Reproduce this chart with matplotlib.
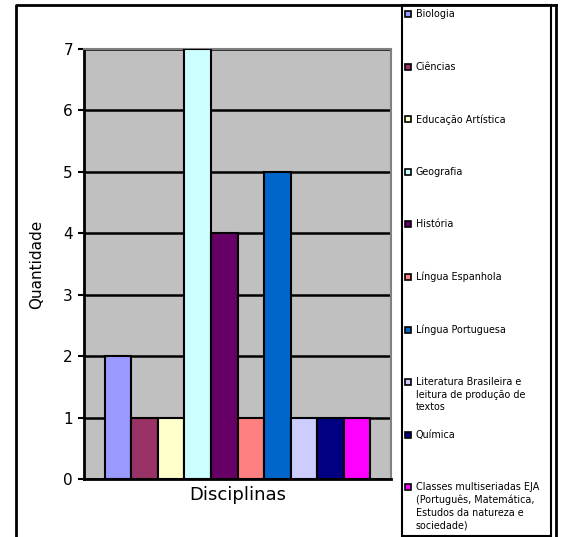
import matplotlib
matplotlib.use("Agg")
import matplotlib.pyplot as plt
from matplotlib.patches import Rectangle
from matplotlib.lines import Line2D

disciplinas = [
    "Biologia",
    "Ciências",
    "Educação Artística",
    "Geografia",
    "História",
    "Língua Espanhola",
    "Língua Portuguesa",
    "Literatura Brasileira e\nleitura de produção de\ntextos",
    "Química",
    "Classes multiseriadas EJA\n(Português, Matemática,\nEstudos da natureza e\nsociedade)",
]
quantidade = [2, 1, 1, 7, 4, 1, 5, 1, 1, 1]
cores = ["#9999FF", "#993366", "#FFFFCC", "#CCFFFF", "#660066",
         "#FF8080", "#0066CC", "#CCCCFF", "#000080", "#FF00FF"]

W, H = 562, 537
fig = plt.figure(figsize=(W / 100, H / 100), dpi=100)

def fx(px):
    return px / W

def fy(py):
    return 1 - py / H

# plot area
ax = fig.add_axes([fx(84), fy(479), fx(391) - fx(84), fy(49) - fy(479)])
ax.set_facecolor("#C0C0C0")
x = list(range(len(quantidade)))
ax.bar(x, quantidade, width=1.0, color=cores, edgecolor="black", linewidth=1.5, zorder=3)
ax.set_xlim(-1.29, 10.29)
ax.set_ylim(0, 7)
ax.set_yticks(range(8))
ax.set_xticks([])
ax.yaxis.grid(True, color="black", linewidth=1.8, zorder=1)
ax.tick_params(axis="y", direction="out", length=4, width=1.5, labelsize=11, pad=4)
for s in ["left", "bottom"]:
    ax.spines[s].set_linewidth(2)
    ax.spines[s].set_color("black")
for s in ["top", "right"]:
    ax.spines[s].set_linewidth(1.5)
    ax.spines[s].set_color("#808080")
ax.set_xlabel("Disciplinas", fontsize=13, labelpad=5)
ax.set_ylabel("Quantidade", fontsize=11, labelpad=14)

# outer chart frame
fig.add_artist(Line2D([fx(16), fx(16), fx(556)], [0, fy(5), fy(5)], transform=fig.transFigure,
                      color="black", linewidth=2))
fig.add_artist(Line2D([fx(556), fx(556)], [0, fy(5)], transform=fig.transFigure,
                      color="black", linewidth=2))

# legend box
fig.add_artist(Rectangle((fx(402), fy(536)), fx(551) - fx(402), fy(5) - fy(536),
                         transform=fig.transFigure, facecolor="white", edgecolor="black",
                         linewidth=1.5))
for i, (lab, c) in enumerate(zip(disciplinas, cores)):
    top = 9 + i * 52.6
    fig.add_artist(Rectangle((fx(405), fy(top + 8)), fx(6), 6 / H, transform=fig.transFigure,
                             facecolor=c, edgecolor="black", linewidth=1.2))
    fig.text(fx(416), fy(top), lab, fontsize=6.9, va="top", ha="left", linespacing=1.3)

fig.savefig("out.png", dpi=100)
